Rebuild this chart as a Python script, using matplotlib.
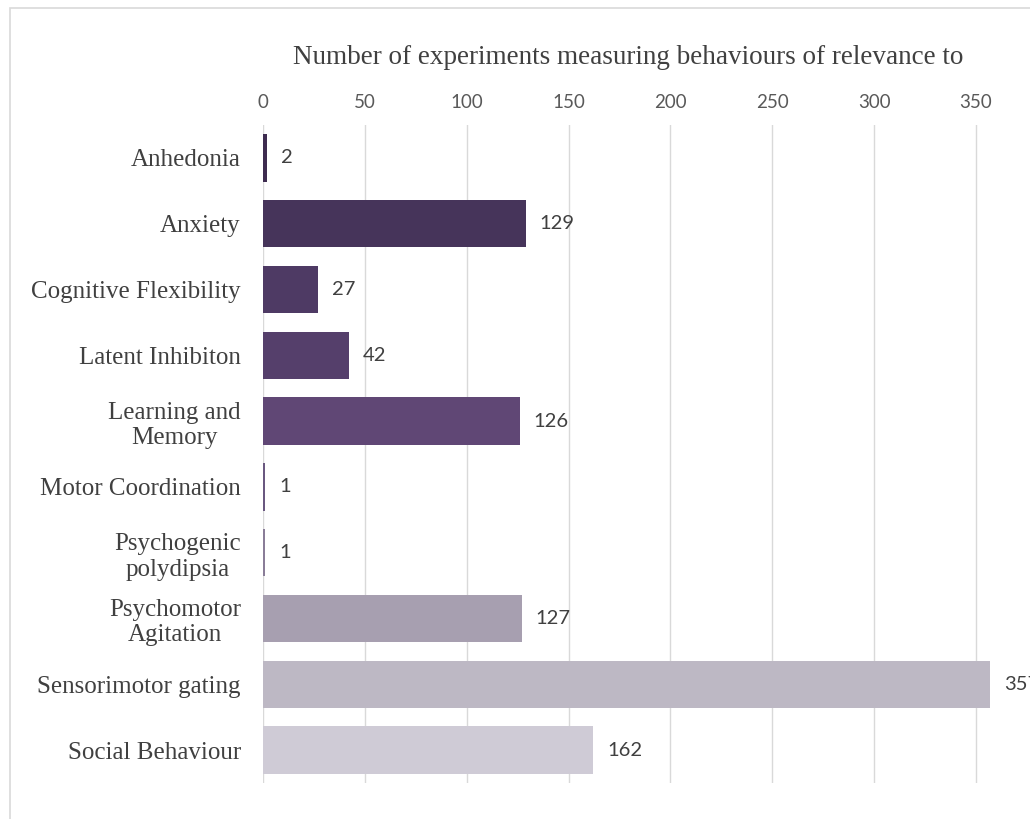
import numpy as np
import matplotlib.pyplot as plt
from matplotlib.patches import Rectangle

## data
categories = ["Anhedonia", "Anxiety", "Cognitive Flexibility", "Latent Inhibiton",
              "Learning and\nMemory", "Motor Coordination", "Psychogenic\npolydipsia",
              "Psychomotor\nAgitation", "Sensorimotor gating", "Social Behaviour"]
counts = [2, 129, 27, 42, 126, 1, 1, 127, 357, 162]
bar_colors = ["#3e2c50", "#46345a", "#4e3a64", "#553f6b", "#604775",
              "#6a5880", "#8a7d98", "#a79fb0", "#bdb8c4", "#cfcbd6"]
ticks = [0, 50, 100, 150, 200, 250, 300, 350]
title = "Number of experiments measuring behaviours of relevance to"

fig = plt.figure(figsize=(10.3, 8.19), dpi=100)
# light frame round the chart, as in the original export
fig.patches.append(Rectangle((10/1030, -0.05), 1.1, 1 - 8/819 + 0.05,
                             transform=fig.transFigure, fill=False,
                             edgecolor="#d9d9d9", linewidth=1.2))

ax = fig.add_axes([263/1030, 36/819, 1 - 263/1030, 658/819])
y = np.arange(len(categories))
ax.barh(y, counts, height=0.72, color=bar_colors, zorder=3)

# value labels (the last one runs off the right edge, as in the original)
for yi, v in zip(y, counts):
    ax.annotate(str(v), (v, yi), xytext=(10, 0), textcoords="offset points",
                va="center", ha="left", fontsize=14.5, family="Lato",
                color="#404040", annotation_clip=False)

ax.set_xlim(0, 376.5)
ax.set_ylim(len(categories) - 0.5, -0.5)
ax.set_xticks(ticks)
ax.xaxis.tick_top()
ax.tick_params(axis="x", length=0, pad=10, labelsize=13.5, labelcolor="#595959")
ax.tick_params(axis="y", length=0, pad=16, labelsize=18, labelcolor="#404040")
for lab in ax.get_xticklabels():
    lab.set_family("Lato")
ax.set_yticks(y)
ax.set_yticklabels(categories, family="Liberation Serif", linespacing=1.2)
for lab in ax.get_yticklabels():
    lab.set_horizontalalignment("right")
    lab.set_multialignment("center")
ax.grid(axis="x", color="#d9d9d9", linewidth=1, zorder=0)
for s in ax.spines.values():
    s.set_visible(False)

fig.text((298 + 958) / 2 / 1030, 1 - 58/819, title, ha="center", va="center",
         fontsize=19.5, family="Liberation Serif", color="#404040")

fig.savefig("out.png", dpi=100)
